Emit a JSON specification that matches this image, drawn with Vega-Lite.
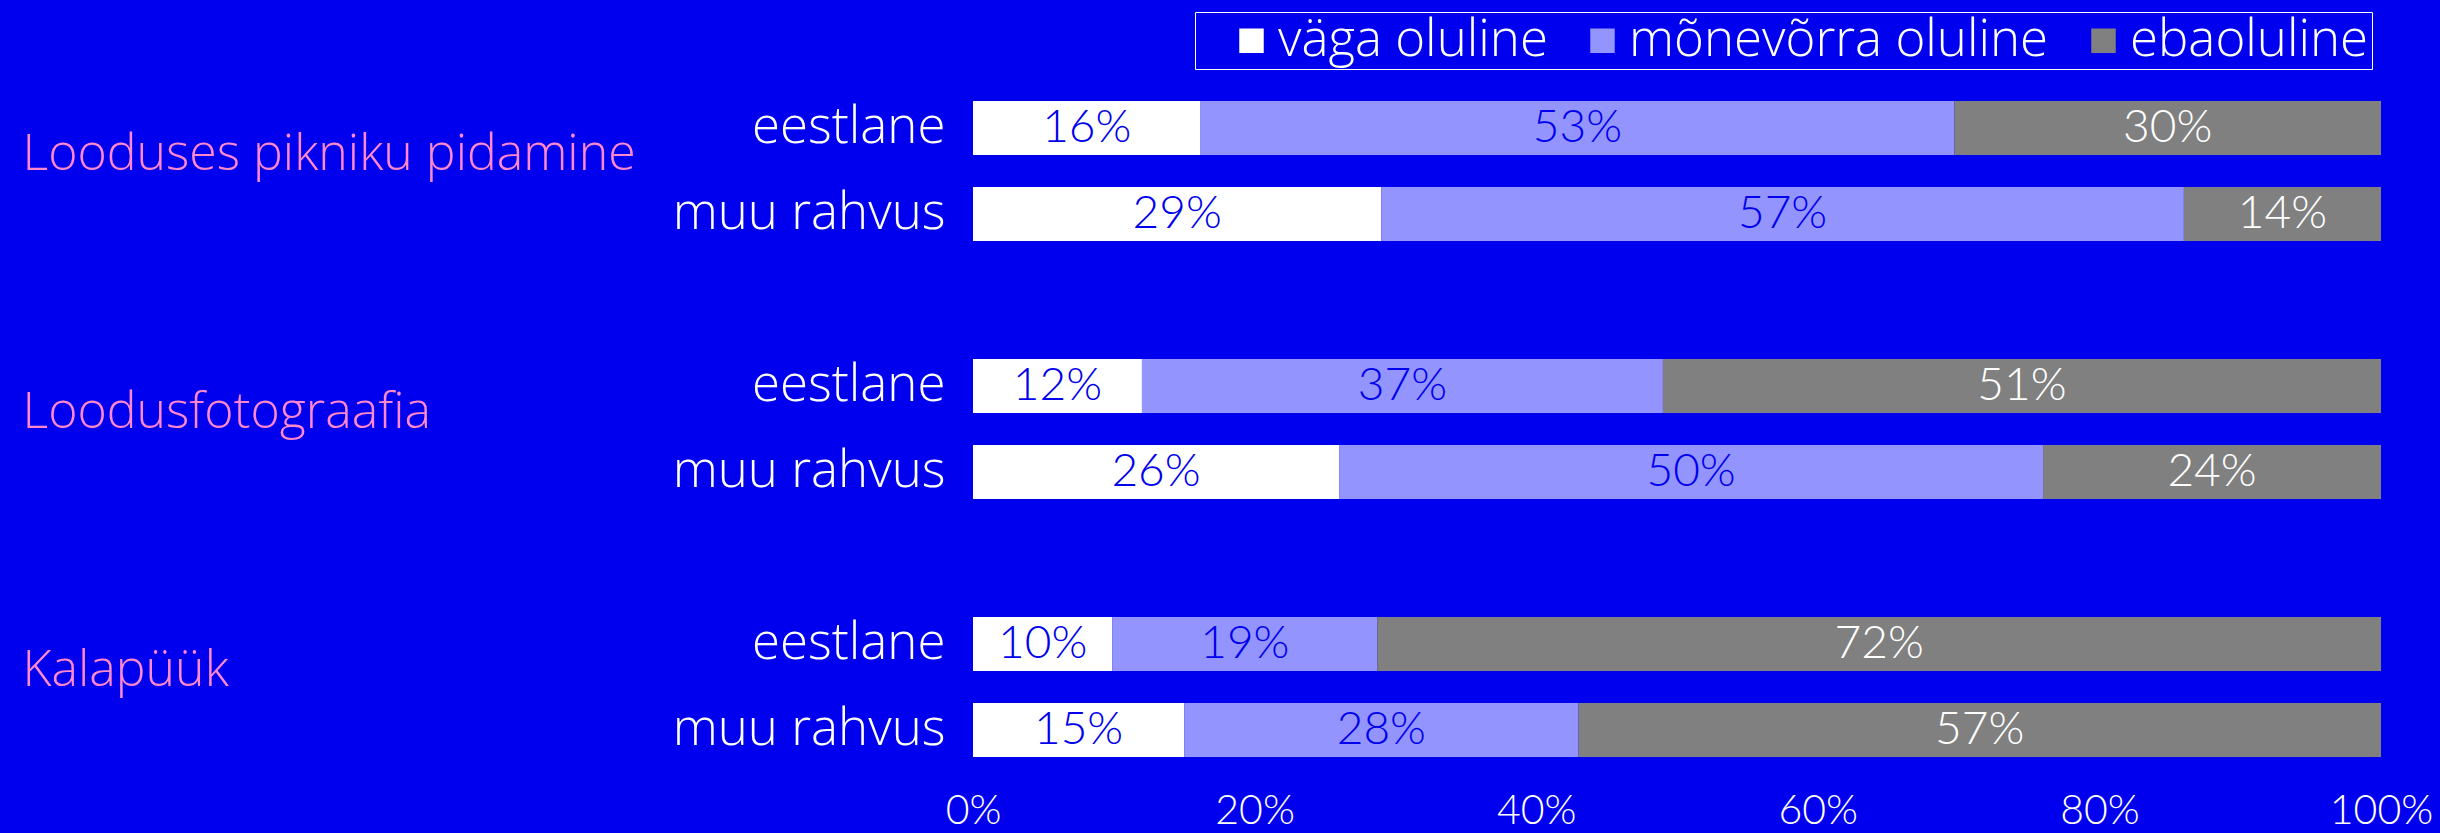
{
  "$schema": "https://vega.github.io/schema/vega-lite/v6.json",
  "width": 1408,
  "height": 688,
  "autosize": {"type": "none"},
  "padding": {"left": 973, "top": 85, "right": 59, "bottom": 60},
  "background": "#0000ee",
  "config": {
    "view": {"stroke": null},
    "font": "Open Sans",
    "axis": {"domain": false, "ticks": false, "grid": false, "labelColor": "#ffffff", "labelFont": "Open Sans", "labelFontWeight": 300, "title": null}
  },
  "data": {
    "values": [
      {"key": "eestlane", "cat": "väga oluline", "ord": 1, "v": 0.16},
      {"key": "eestlane", "cat": "mõnevõrra oluline", "ord": 2, "v": 0.53},
      {"key": "eestlane", "cat": "ebaoluline", "ord": 3, "v": 0.30},
      {"key": "muu rahvus", "cat": "väga oluline", "ord": 1, "v": 0.29},
      {"key": "muu rahvus", "cat": "mõnevõrra oluline", "ord": 2, "v": 0.57},
      {"key": "muu rahvus", "cat": "ebaoluline", "ord": 3, "v": 0.14},
      {"key": "eestlane\u200b", "cat": "väga oluline", "ord": 1, "v": 0.12},
      {"key": "eestlane\u200b", "cat": "mõnevõrra oluline", "ord": 2, "v": 0.37},
      {"key": "eestlane\u200b", "cat": "ebaoluline", "ord": 3, "v": 0.51},
      {"key": "muu rahvus\u200b", "cat": "väga oluline", "ord": 1, "v": 0.26},
      {"key": "muu rahvus\u200b", "cat": "mõnevõrra oluline", "ord": 2, "v": 0.50},
      {"key": "muu rahvus\u200b", "cat": "ebaoluline", "ord": 3, "v": 0.24},
      {"key": "eestlane\u200b\u200b", "cat": "väga oluline", "ord": 1, "v": 0.10},
      {"key": "eestlane\u200b\u200b", "cat": "mõnevõrra oluline", "ord": 2, "v": 0.19},
      {"key": "eestlane\u200b\u200b", "cat": "ebaoluline", "ord": 3, "v": 0.72},
      {"key": "muu rahvus\u200b\u200b", "cat": "väga oluline", "ord": 1, "v": 0.15},
      {"key": "muu rahvus\u200b\u200b", "cat": "mõnevõrra oluline", "ord": 2, "v": 0.28},
      {"key": "muu rahvus\u200b\u200b", "cat": "ebaoluline", "ord": 3, "v": 0.57}
    ]
  },
  "encoding": {
    "y": {
      "field": "key",
      "type": "nominal",
      "scale": {
        "domain": ["eestlane", "muu rahvus", "\u200b", "eestlane\u200b", "muu rahvus\u200b", "\u200b\u200b", "eestlane\u200b\u200b", "muu rahvus\u200b\u200b"],
        "paddingInner": 0.37,
        "paddingOuter": 0.185
      }
    },
    "order": {"field": "ord", "type": "quantitative"}
  },
  "resolve": {"axis": {"y": "independent"}},
  "layer": [
    {
      "mark": {"type": "bar"},
      "encoding": {
        "x": {
          "field": "v", "type": "quantitative", "stack": "normalize",
          "scale": {"domain": [0, 1], "nice": false},
          "axis": {"format": "%", "values": [0, 0.2, 0.4, 0.6, 0.8, 1], "labelFontSize": 41, "labelPadding": 18, "labelFlush": false, "labelOverlap": false, "labelFont": "Lato", "labelFontWeight": 300}
        },
        "y": {
          "field": "key", "type": "nominal",
          "axis": {"orient": "left", "values": ["eestlane", "muu rahvus", "eestlane\u200b", "muu rahvus\u200b", "eestlane\u200b\u200b", "muu rahvus\u200b\u200b"], "labelFontSize": 51, "labelPadding": 28, "labelLimit": 0, "labelAlign": "right"}
        },
        "color": {
          "field": "cat", "type": "nominal",
          "scale": {"domain": ["väga oluline", "mõnevõrra oluline", "ebaoluline"], "range": ["#ffffff", "#9494ff", "#808080"]},
          "legend": {
            "orient": "none", "legendX": 222, "legendY": -73, "direction": "horizontal", "title": null,
            "symbolType": "square", "symbolSize": 600, "symbolStrokeWidth": 0, "symbolOpacity": 1, "symbolOffset": 28,
            "labelFontSize": 51, "labelColor": "#ffffff", "labelFont": "Open Sans", "labelFontWeight": 300,
            "strokeColor": "#ffffff", "padding": 3, "columnPadding": 1, "labelOffset": 1, "labelLimit": 0
          }
        }
      }
    },
    {
      "mark": {"type": "text", "font": "Lato", "fontWeight": 300, "fontSize": 46, "baseline": "middle", "align": "center"},
      "encoding": {
        "x": {"field": "v", "type": "quantitative", "stack": "normalize", "bandPosition": 0.5},
        "y": {
          "field": "key", "type": "nominal",
          "axis": {"orient": "left", "values": ["eestlane", "eestlane\u200b", "eestlane\u200b\u200b"], "labelExpr": "datum.value == 'eestlane' ? 'Looduses pikniku pidamine' : (datum.value == 'eestlane\u200b' ? 'Loodusfotograafia' : 'Kalapüük')", "labelFontSize": 50, "labelPadding": 951, "tickSize": 0, "labelLimit": 0, "labelAlign": "left", "labelOffset": 27, "labelColor": "#ff88cc"}
        },
        "text": {"field": "v", "type": "quantitative", "format": ".0%"},
        "color": {
          "condition": {"test": "datum.cat == 'ebaoluline'", "value": "#ffffff"},
          "value": "#0000ee"
        }
      }
    }
  ]
}
